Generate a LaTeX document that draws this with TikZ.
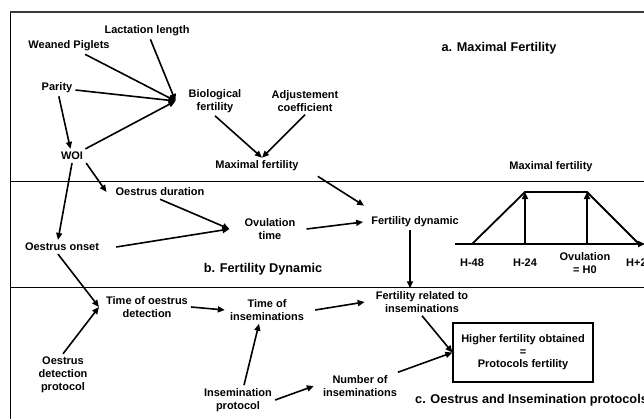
\documentclass[tikz,border=0pt]{standalone}
\usepackage{fontspec}
\setmainfont{Liberation Sans}
\usepackage{xcolor}
\definecolor{cInk}{HTML}{000000}
\definecolor{cFrame}{HTML}{3A3A3A}
\usetikzlibrary{positioning,arrows.meta}
\tikzset{
  node-lbl/.style={align=center,inner sep=3pt,
    font=\fontsize{11}{13}\selectfont\bfseries},
  node-title/.style={inner sep=0pt,font=\fontsize{12.7}{15}\selectfont\bfseries},
  node-res/.style={node-lbl,draw=cInk,line width=1.2pt,
    font=\fontsize{11}{12.5}\selectfont\bfseries,
    minimum width=140pt,minimum height=59pt},
  arrow/.style={-{Triangle[length=7pt,width=6pt]},line width=1.6pt,draw=cInk},
  sep-line/.style={line width=1pt,draw=cInk},
  curve-line/.style={line width=1.8pt,draw=cInk},
}

\begin{document}
\begin{tikzpicture}[x=1pt,y=-1pt]
  \useasboundingbox (0,0) rectangle (644,418);
  \clip (0,0) rectangle (644,418);
  % frame and bands
  \draw[line width=1pt] (10,12) -- (10,430);
  \draw[line width=2pt,draw=cFrame] (10,12) -- (660,12);
  \draw[sep-line] (10,181) -- (660,181);
  \draw[sep-line] (10,287) -- (660,287);

  % a. maximal fertility
  \node[node-lbl] (lact)   at (147,31)  {Lactation length};
  \node[node-lbl] (wean)   at (69,46)   {Weaned Piglets};
  \node[node-lbl] (parity) at (57,88)   {Parity};
  \node[node-lbl] (woi)    at (72,156)  {WOI};
  \node[node-lbl] (bio)    at (215,101) {Biological\\fertility};
  \node[node-lbl] (adj)    at (305,101) {Adjustement\\coefficient};
  \node[node-lbl] (maxf)   at (257,166) {Maximal fertility};
  \node[node-title] (titleA) at (499,48) {a. Maximal Fertility};

  % b. fertility dynamic
  \node[node-lbl] (odur)  at (160,192) {Oestrus duration};
  \node[node-lbl] (ovul)  at (270,229) {Ovulation\\time};
  \node[node-lbl] (onset) at (62,247)  {Oestrus onset};
  \node[node-lbl] (fdyn)  at (415,222) {Fertility dynamic};
  \node[node-title] (titleB) at (263,269) {b. Fertility Dynamic};

  % c. oestrus and insemination protocols
  \node[node-lbl] (frel)  at (422,302) {Fertility related to\\inseminations};
  \node[node-lbl] (tod)   at (147,307) {Time of oestrus\\detection};
  \node[node-lbl] (tins)  at (267,310) {Time of\\inseminations};
  \node[node-lbl] (odp)   at (63,375)  {Oestrus\\detection\\protocol};
  \node[node-lbl] (iprot) at (238,400) {Insemination\\protocol};
  \node[node-lbl] (nins)  at (360,386) {Number of\\inseminations};
  \node[node-res] (res)   at (523,352.5) {Higher fertility obtained\\=\\Protocols fertility};
  \node[node-title,anchor=west] (titleC) at (415,400) {c. Oestrus and Insemination protocols};

  % maximal fertility curve
  \node[node-lbl] (chartT) at (551,167) {Maximal fertility};
  \coordinate (h48p) at (472,244);
  \coordinate (h24p) at (525,244);
  \coordinate (h0p)  at (587,244);
  \coordinate (h24t) at (525,192);
  \coordinate (h0t)  at (587,192);
  \draw[arrow] (455,244) -- (645,244);
  \draw[curve-line] (h48p) -- (h24t) -- (h0t) -- (639,244);
  \draw[arrow] (h24p) -- (h24t);
  \draw[arrow] (h0p) -- (h0t);
  \node[node-lbl] (h48) at (472,263) {H-48};
  \node[node-lbl] (h24) at (525,263) {H-24};
  \node[node-lbl] (h0)  at (585,263) {Ovulation\\= H0};
  \node[node-lbl,anchor=west] (hp24) at (623,263) {H+24};

  % arrows
  \draw[arrow] (lact) -- ([xshift=-10]bio.west);
  \draw[arrow] (wean) -- ([xshift=-10]bio.west);
  \draw[arrow] (parity) -- ([xshift=-10]bio.west);
  \draw[arrow] (woi) -- ([xshift=-10]bio.west);
  \draw[arrow] (parity) -- (woi);
  \draw[arrow] (bio.south) -- ([xshift=5]maxf.north);
  \draw[arrow] (adj.south) -- ([xshift=5]maxf.north);
  \draw[arrow] ([xshift=16,yshift=-2]maxf.south east) -- ([xshift=-4,yshift=8]fdyn.north west);
  \draw[arrow] (woi.south east) -- ([xshift=-6]odur.west);
  \draw[arrow] (woi.south) -- ([xshift=-4]onset.north);
  \draw[arrow] (odur.south) -- ([xshift=-12]ovul.west);
  \draw[arrow] ([xshift=14]onset.east) -- ([xshift=-12]ovul.west);
  \draw[arrow] ([xshift=8]ovul.east) -- ([xshift=-5]fdyn.west);
  \draw[arrow] ([xshift=-5]fdyn.south) -- ([xshift=-5]fdyn.south |- frel.north);
  \draw[arrow] ([xshift=-4]onset.south) -- ([xshift=-4]tod.west);
  \draw[arrow] (odp.north) -- ([xshift=-4]tod.west);
  \draw[arrow] (tod.east) -- ([xshift=-2]tins.west);
  \draw[arrow] ([xshift=8]tins.east) -- ([xshift=-8]frel.west);
  \draw[arrow] ([xshift=6]iprot.north) -- ([xshift=-8]tins.south);
  \draw[arrow] (iprot.east) -- ([xshift=-6]nins.west);
  \draw[arrow] (frel.south) -- (res.west);
  \draw[arrow] (nins) -- (res.west);
\end{tikzpicture}
\end{document}
